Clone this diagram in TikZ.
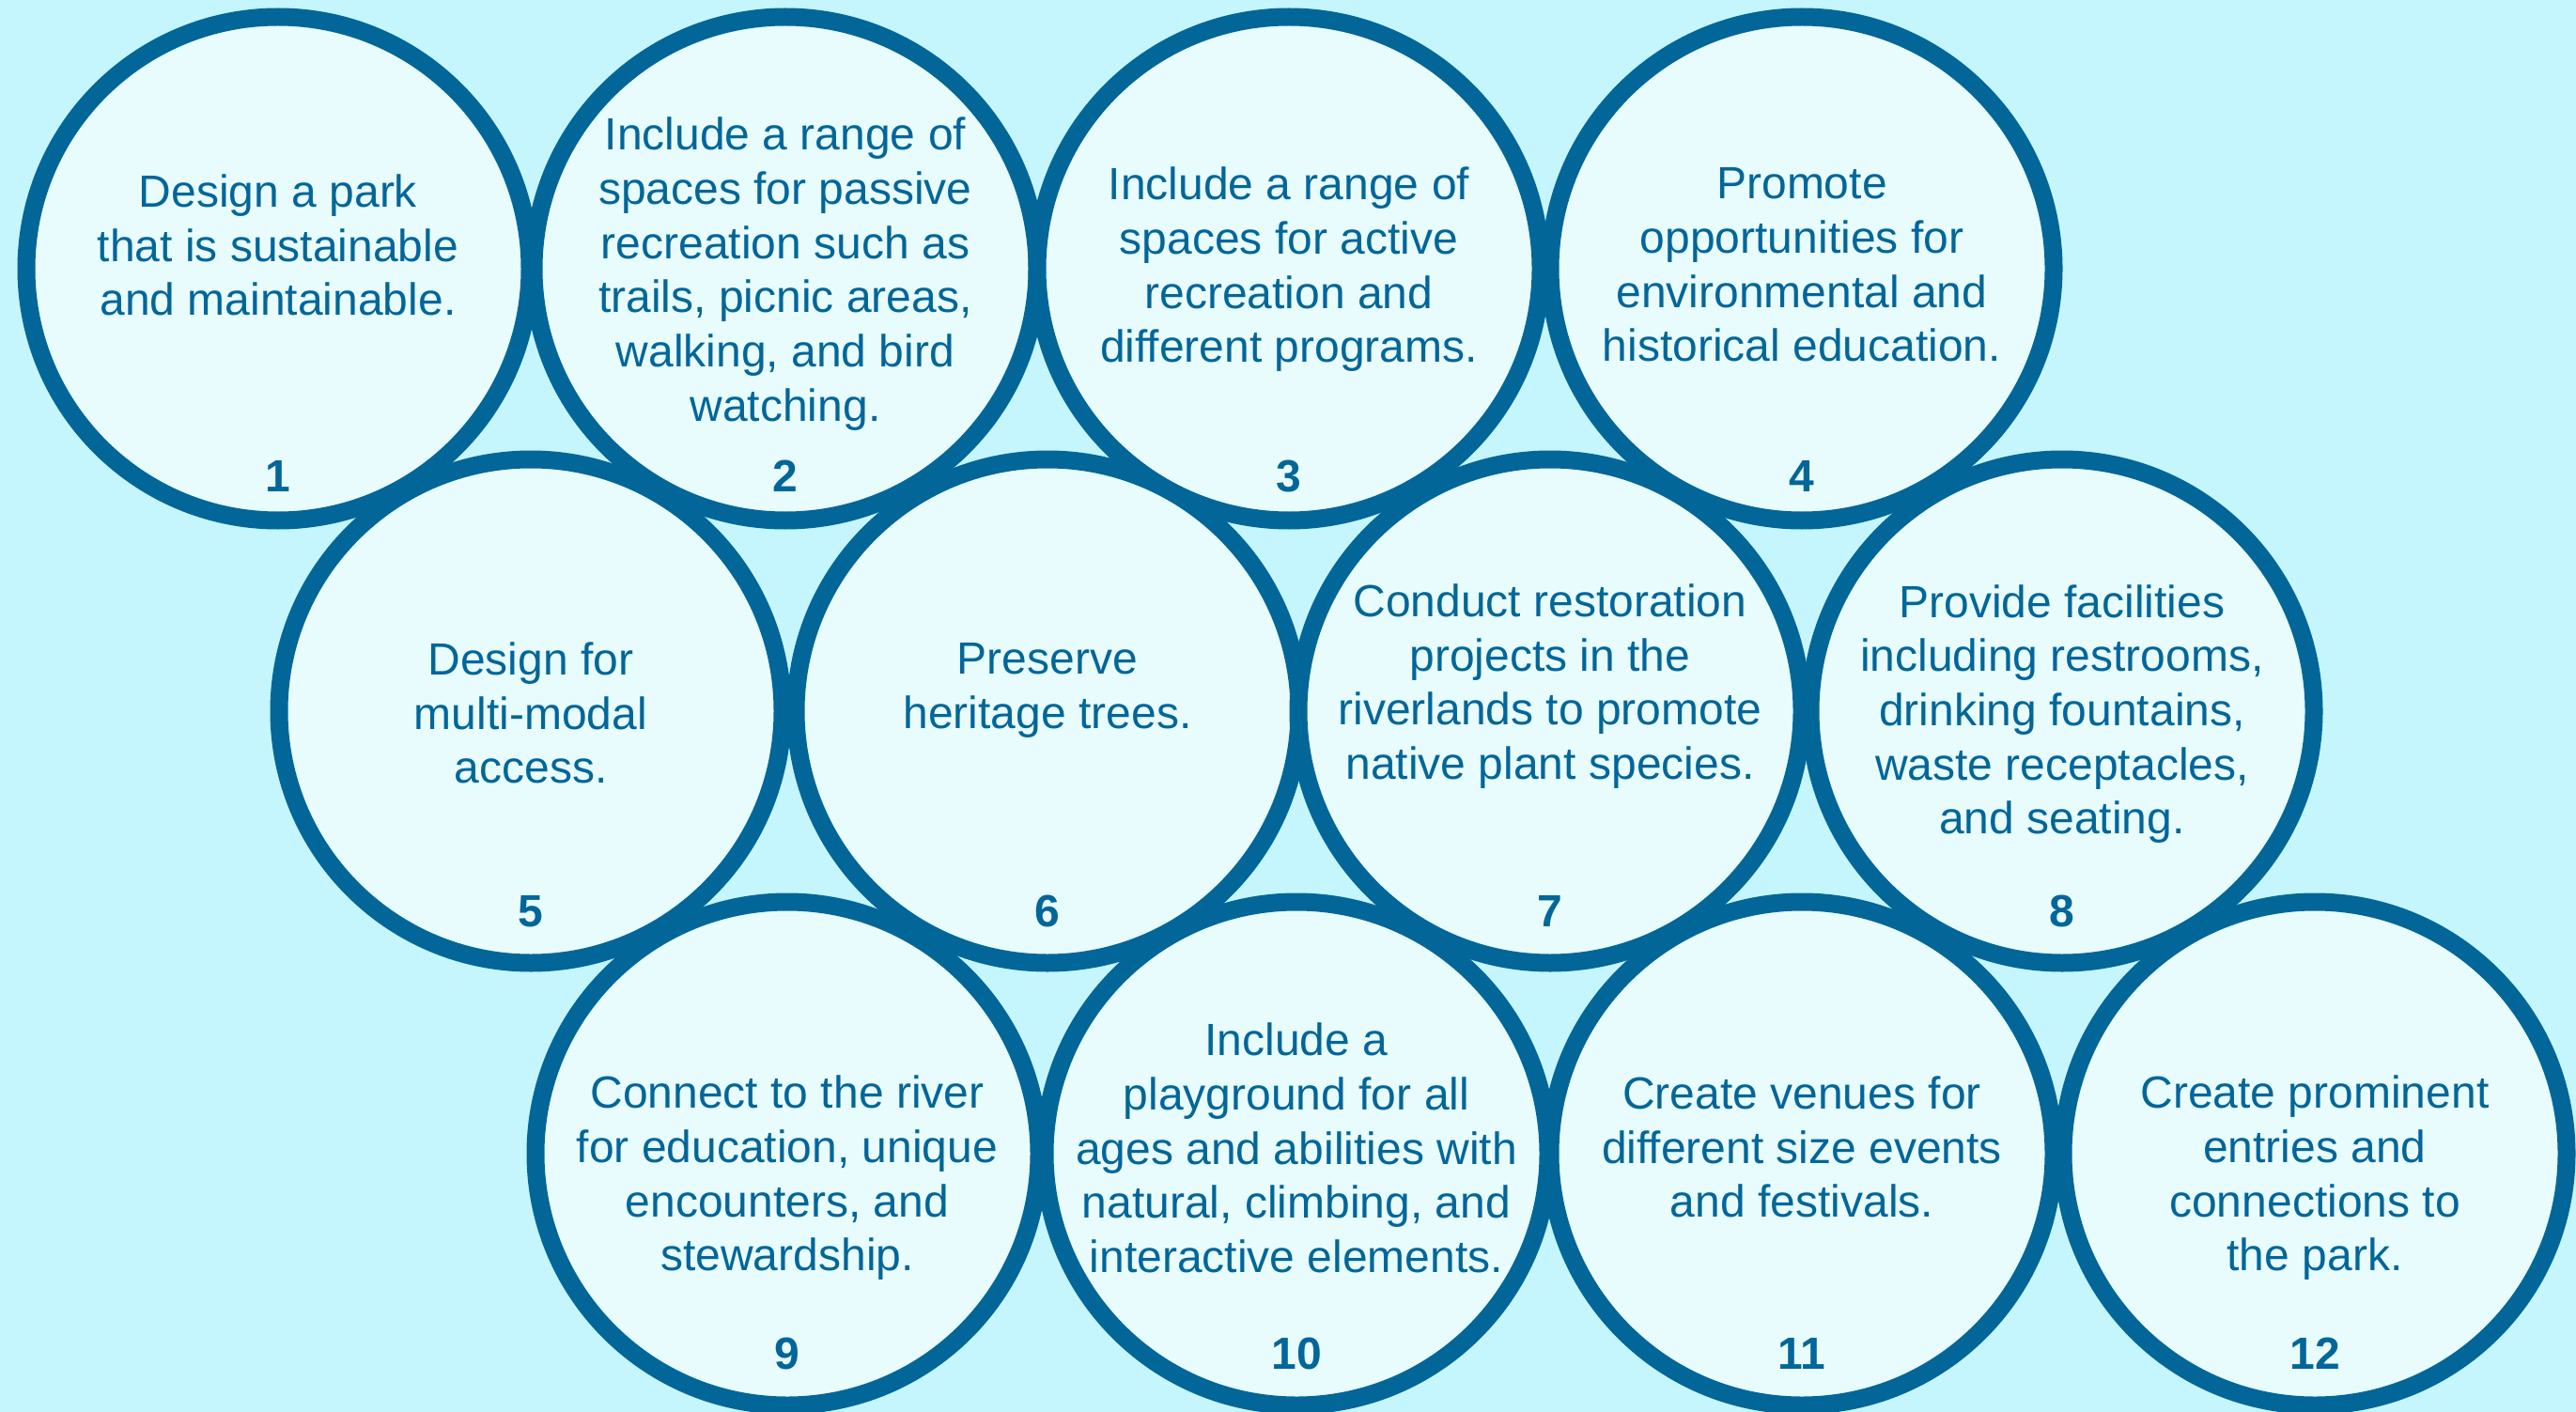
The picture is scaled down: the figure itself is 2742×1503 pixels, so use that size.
\documentclass[tikz,border=0pt]{standalone}
\usepackage{fontspec}
\setmainfont{Liberation Sans}
\definecolor{bgc}{HTML}{C5F6FD}
\definecolor{fillc}{HTML}{E8FCFE}
\definecolor{ink}{HTML}{026699}
\tikzset{
  bubble/.style={circle, draw=ink, fill=fillc, line width=9.5pt, minimum size=268pt, inner sep=0pt},
  txt/.style={text=ink, align=center, font=\fontsize{24pt}{28.85pt}\selectfont, inner sep=0pt},
  num/.style={text=ink, font=\fontsize{24pt}{28.85pt}\selectfont\bfseries, inner sep=0pt}
}
\begin{document}
\begin{tikzpicture}[x=0.5pt,y=-0.5pt]
\fill[bgc] (0,0) rectangle (2742,1503);
\useasboundingbox (0,0) rectangle (2742,1503);
% row 1
\node[bubble] (c1) at (296,286) {};
\node[bubble] (c2) at (836,286) {};
\node[bubble] (c3) at (1372,286) {};
\node[bubble] (c4) at (1918,286) {};
% row 2
\node[bubble] (c5) at (565,757) {};
\node[bubble] (c6) at (1115,757) {};
\node[bubble] (c7) at (1650,757) {};
\node[bubble] (c8) at (2195,757) {};
% row 3
\node[bubble] (c9) at (838,1228) {};
\node[bubble] (c10) at (1380,1228) {};
\node[bubble] (c11) at (1918,1228) {};
\node[bubble] (c12) at (2464,1228) {};
% texts
\node[txt] (t1) at (296,261) {Design a park\\that is sustainable\\and maintainable.};
\node[txt] (t2) at (836,291.5) {Include a range of\\spaces for passive\\recreation such as\\trails, picnic areas,\\walking, and bird\\watching.};
\node[txt] (t3) at (1372,287) {Include a range of\\spaces for active\\recreation and\\different programs.};
\node[txt] (t4) at (1918,282) {Promote\\opportunities for\\environmental and\\historical education.};
\node[txt] (t5) at (565,759) {Design for\\multi-modal\\access.};
\node[txt] (t6) at (1115,735) {Preserve\\heritage trees.};
\node[txt] (t7) at (1650,730.5) {Conduct restoration\\projects in the\\riverlands to promote\\native plant species.};
\node[txt] (t8) at (2195,760) {Provide facilities\\including restrooms,\\drinking fountains,\\waste receptacles,\\and seating.};
\node[txt] (t9) at (838,1254) {Connect to the river\\for education, unique\\encounters, and\\stewardship.};
\node[txt] (t10) at (1380,1222) {Include a\\playground for all\\ages and abilities with\\natural, climbing, and\\interactive elements.};
\node[txt] (t11) at (1918,1221) {Create venues for\\different size events\\and festivals.};
\node[txt] (t12) at (2464,1254) {Create prominent\\entries and\\connections to\\the park.};
% numbers
\node[num] (n1) at (296,507) {1};
\node[num] (n2) at (836,507) {2};
\node[num] (n3) at (1372,507) {3};
\node[num] (n4) at (1918,507) {4};
\node[num] (n5) at (565,970) {5};
\node[num] (n6) at (1115,970) {6};
\node[num] (n7) at (1650,970) {7};
\node[num] (n8) at (2195,970) {8};
\node[num] (n9) at (838,1441) {9};
\node[num] (n10) at (1380,1441) {10};
\node[num] (n11) at (1918,1441) {11};
\node[num] (n12) at (2464,1441) {12};
\end{tikzpicture}
\end{document}
